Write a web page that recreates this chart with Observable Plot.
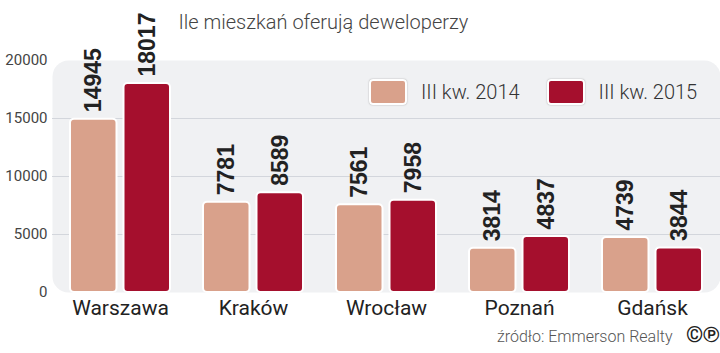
<!DOCTYPE html>
<html><head><meta charset="utf-8">
<script src="https://cdn.jsdelivr.net/npm/d3@7"></script>
<script src="https://cdn.jsdelivr.net/npm/@observablehq/plot@0.6"></script>
<style>
body{margin:0;background:#fff;}
#wrap{position:relative;width:720px;height:353px;font-family:Roboto,sans-serif;}
.legend{position:absolute;left:369px;top:79px;width:360px;display:flex;align-items:center;white-space:nowrap;font-family:Roboto,sans-serif;font-weight:300;font-size:20px;color:#333;}
.legend .item{display:flex;align-items:center;flex:none;margin-right:27px;}
.legend .sw{width:34px;height:22px;border-radius:4px;border:2px solid #fff;box-shadow:0 0 1.5px #999;margin-right:14px;flex:none;}
</style></head><body><div id="wrap"></div>
<script>
const cities = ["Warszawa", "Kraków", "Wrocław", "Poznań", "Gdańsk"];
const seriesNames = ["III kw. 2014", "III kw. 2015"];
const values2014 = [14945, 7781, 7561, 3814, 4739];
const values2015 = [18017, 8589, 7958, 4837, 3844];
const yTicks = [0, 5000, 10000, 15000, 20000];
const gridTicks = [5000, 10000, 15000];
const colors = ["#d9a18b", "#a50f2d"];
const title = "Ile mieszkań oferują deweloperzy";
const source = "źródło: Emmerson Realty";
const marks = "©℗";

const data = cities.flatMap((c, i) => [
  {city: c, series: seriesNames[0], value: values2014[i]},
  {city: c, series: seriesNames[1], value: values2015[i]}
]);
const d14 = data.filter(d => d.series === seriesNames[0]);
const d15 = data.filter(d => d.series === seriesNames[1]);

const labelStyle = {
  rotate: -90, textAnchor: "start", dy: -7, fontSize: 23, fontWeight: "bold",
  fontFamily: "'Liberation Sans', Arial, sans-serif", fill: "#222"
};

const chart = Plot.plot({
  width: 720, height: 353,
  marginTop: 60, marginBottom: 61, marginLeft: 52, marginRight: 0,
  style: {fontFamily: "Roboto, sans-serif", background: "#fff", overflow: "visible"},
  x: {domain: cities, paddingInner: 0.246, paddingOuter: 0.123, label: null},
  y: {domain: [0, 20000], label: null},
  color: {domain: seriesNames, range: colors},
  marks: [
    Plot.frame({fill: "#f0f1f3", rx: 16}),
    Plot.ruleY(gridTicks, {stroke: "#d3d6dc", strokeWidth: 1}),
    Plot.barY(d14, {x: "city", y: "value", fill: "series", stroke: "#fff", strokeWidth: 2, rx: 4, insetRight: 53.5}),
    Plot.barY(d15, {x: "city", y: "value", fill: "series", stroke: "#fff", strokeWidth: 2, rx: 4, insetLeft: 53.5}),
    Plot.text(d14, {x: "city", y: "value", text: d => String(d.value), dx: -26.75, ...labelStyle}),
    Plot.text(d15, {x: "city", y: "value", text: d => String(d.value), dx: 26.75, ...labelStyle}),
    Plot.axisY({ticks: yTicks, tickSize: 0, tickPadding: 5, fontSize: 15, label: null, tickFormat: d => String(d), color: "#444"}),
    Plot.axisX({tickSize: 0, tickPadding: 8, fontSize: 21, label: null, color: "#222"}),
    Plot.text([title], {frameAnchor: "top-left", dx: 126, dy: -46, textAnchor: "start", fontSize: 20, fontWeight: 300, fill: "#444"}),
    Plot.text([source], {frameAnchor: "bottom-right", dx: -48, dy: 49, textAnchor: "end", fontSize: 16, fontWeight: 300, fill: "#555"}),
    Plot.text([marks], {frameAnchor: "bottom-right", dx: -1, dy: 49, textAnchor: "end", fontSize: 22, fontWeight: "bold", fill: "#222"})
  ]
});

const wrap = document.getElementById("wrap");
wrap.appendChild(chart);
const legend = document.createElement("div");
legend.className = "legend";
seriesNames.forEach((s, i) => {
  const item = document.createElement("div");
  item.className = "item";
  const sw = document.createElement("div");
  sw.className = "sw";
  sw.style.background = colors[i];
  const t = document.createElement("span");
  t.textContent = s;
  item.appendChild(sw); item.appendChild(t);
  legend.appendChild(item);
});
wrap.appendChild(legend);
</script></body></html>
